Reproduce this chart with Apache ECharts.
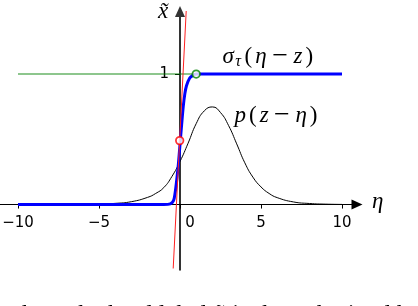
<!DOCTYPE html>
<html><head><meta charset="utf-8">
<script src="https://cdn.jsdelivr.net/npm/echarts@6/dist/echarts.min.js"></script>
<style>html,body{margin:0;padding:0;background:#fff}#c{width:418px;height:306px}</style>
</head><body><div id="c"></div>
<script>
// ---- data ----
const xTicks = [-10, -5, 0, 5, 10];
const yTicks = [1];
const densityEta = [-10, -8, -6, -5, -4, -3, -2, -1.5, -1, -0.5, 0, 0.5, 1, 1.5, 2, 2.5, 3, 3.5, 4, 4.5, 5, 5.5, 6, 7, 8, 9, 10];
const densityVal = [0.0, 0.0005, 0.002, 0.004, 0.009, 0.022, 0.055, 0.085, 0.13, 0.215, 0.33, 0.47, 0.62, 0.718, 0.748, 0.705, 0.605, 0.465, 0.32, 0.21, 0.135, 0.085, 0.053, 0.02, 0.008, 0.003, 0.001];
const sigmoidEta = [-10, -1, -0.6, -0.4, -0.3, -0.2, -0.1, 0, 0.1, 0.2, 0.3, 0.4, 0.6, 0.8, 1, 10];
const sigmoidVal = [0, 0, 0.005, 0.03, 0.09, 0.19, 0.31, 0.46, 0.61, 0.75, 0.85, 0.91, 0.97, 0.99, 1, 1];
const stepEta = [-10, 10];
const stepVal = [1, 1];
const tangentEta = [-0.42, 0.39];
const tangentVal = [-0.49, 1.5];
const redPoint = [-0.02, 0.49];
const greenPoint = [1.0, 1.0];

const zip = (a, b) => a.map((v, i) => [v, b[i]]);
const minus = v => String(v).replace('-', '\u2212');

const GRID = {left: 0, top: 11.4, width: 357, height: 258.4, containLabel: false, outerBoundsMode: 'none'};
const SERIF = '"Liberation Serif"';
const mathRich = {
  a: {font: 'italic 23px ' + SERIF, fill: '#000', padding: [0, 1.5, 0, 1.5]},
  b: {font: '23px ' + SERIF, fill: '#000', padding: [0, 1.5, 0, 1.5]},
  m: {font: '28px ' + SERIF, fill: '#000', padding: [0, 4, 0, 4]},
  s: {font: 'italic 16px ' + SERIF, fill: '#000', padding: [10, 2, 0, 0]}
};

const chart = echarts.init(document.getElementById('c'), null, {renderer: 'canvas'});
const option = {
  animation: false,
  backgroundColor: '#fff',
  grid: GRID,
  xAxis: {
    type: 'value', min: -11.111, max: 10.926, position: 'bottom', offset: 0,
    axisLine: {onZero: false, symbol: ['none', 'triangle'], symbolSize: [10, 11], lineStyle: {color: '#000', width: 1}},
    axisTick: {show: true, customValues: xTicks, length: 4, lineStyle: {color: '#000'}},
    axisLabel: {
      customValues: xTicks, margin: 11, color: '#000', fontFamily: 'DejaVu Sans', fontSize: 15,
      formatter: v => v === 0 ? '{z|0}' : minus(v),
      rich: {z: {fontFamily: 'DejaVu Sans', fontSize: 15, color: '#000', padding: [0, 0, 0, 20]}}
    },
    splitLine: {show: false}
  },
  yAxis: {
    type: 'value', min: -0.5, max: 1.48, position: 'left', offset: 0,
    axisLine: {onZero: false, symbol: ['none', 'triangle'], symbolSize: [10, 11], lineStyle: {color: '#333', width: 2}},
    axisTick: {show: true, customValues: yTicks, length: 5, lineStyle: {color: '#000'}},
    axisLabel: {customValues: yTicks, margin: 11, color: '#000', fontFamily: 'DejaVu Sans', fontSize: 15},
    splitLine: {show: false}
  },
  series: [
    {type: 'line', data: zip(stepEta, stepVal), showSymbol: false, z: 2,
     lineStyle: {color: 'rgba(0,128,0,0.6)', width: 1.5}},
    {type: 'line', data: zip(densityEta, densityVal), showSymbol: false, smooth: true, z: 3,
     lineStyle: {color: '#000', width: 1}},
    {type: 'line', data: zip(sigmoidEta, sigmoidVal), showSymbol: false, smooth: 0.3, z: 4,
     lineStyle: {color: '#0000ff', width: 3}},
    {type: 'line', data: zip(tangentEta, tangentVal), showSymbol: false, z: 5,
     lineStyle: {color: '#ff2020', width: 1}},
    {type: 'scatter', data: [redPoint], symbol: 'circle', symbolSize: 7.5, z: 6,
     itemStyle: {color: '#fff', borderColor: '#ff0000', borderWidth: 1.8}},
    {type: 'scatter', data: [greenPoint], symbol: 'circle', symbolSize: 7.5, z: 6,
     itemStyle: {color: '#fff', borderColor: '#008000', borderWidth: 1.8}}
  ],
  graphic: [
    {type: 'text', z: 10, style: {x: 163, y: 12, text: 'x\u0303', textAlign: 'center', textVerticalAlign: 'middle',
      font: 'italic 23px ' + SERIF, fill: '#000'}},
    {type: 'text', z: 10, style: {x: 372, y: 202, text: 'η', textAlign: 'left', textVerticalAlign: 'middle',
      font: 'italic 23px ' + SERIF, fill: '#000'}},
    {type: 'text', z: 10, style: {x: 221, y: 57, textVerticalAlign: 'middle', textAlign: 'left',
      text: '{a|σ}{s|τ}{b|(}{a|η}{m|−}{a|z}{b|)}', rich: mathRich}},
    {type: 'text', z: 10, style: {x: 233, y: 116, textVerticalAlign: 'middle', textAlign: 'left',
      text: '{a|p}{b|(}{a|z}{m|−}{a|η}{b|)}', rich: mathRich}},
    {type: 'text', z: 10, style: {x: 4, y: 303, textVerticalAlign: 'top', textAlign: 'left',
      text: 'where the hard label x\u0303 is then obtained by the',
      font: '25px ' + SERIF, fill: '#000'}}
  ]
};
chart.setOption(option);
// move axes so that they cross at the data origin (computed from the library's scales)
const origin = chart.convertToPixel({gridIndex: 0}, [0, 0]);
const gridBottom = GRID.top + GRID.height;
chart.setOption({
  xAxis: {offset: origin[1] - gridBottom},
  yAxis: {offset: GRID.left - origin[0]}
});
</script></body></html>
